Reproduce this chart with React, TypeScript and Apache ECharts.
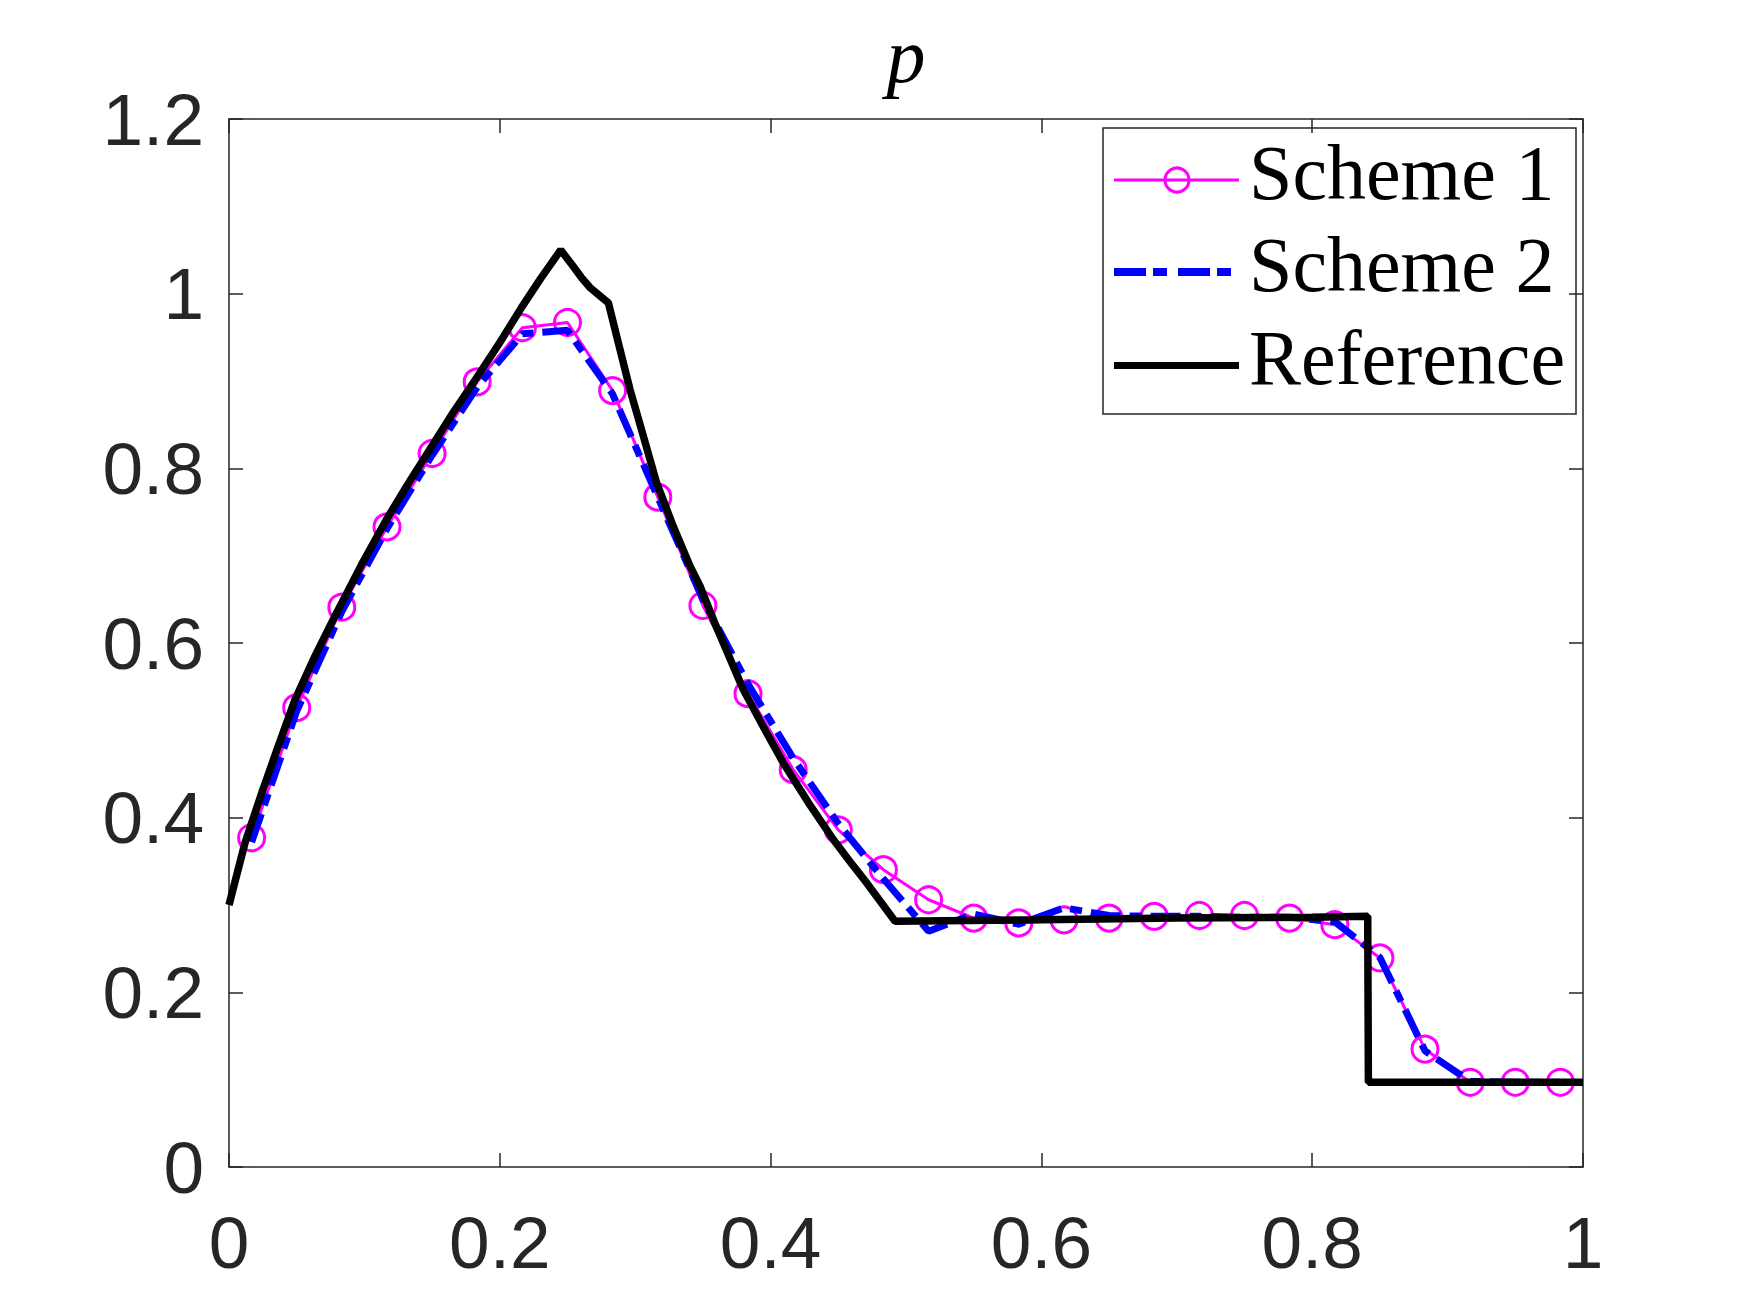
import React, { useEffect, useRef } from "react";
import * as echarts from "echarts";

// Cell centres of the numerical schemes
const cellX = [
  0.0167, 0.05, 0.0833, 0.1167, 0.15, 0.1833, 0.2167, 0.25, 0.2833, 0.3167,
  0.35, 0.3833, 0.4167, 0.45, 0.4833, 0.5167, 0.55, 0.5833, 0.6167, 0.65,
  0.6833, 0.7167, 0.75, 0.7833, 0.8167, 0.85, 0.8833, 0.9167, 0.95, 0.9833,
];

const scheme1 = [
  0.377, 0.526, 0.641, 0.733, 0.817, 0.899, 0.961, 0.967, 0.889, 0.767,
  0.643, 0.542, 0.455, 0.386, 0.3405, 0.306, 0.285, 0.2795, 0.283, 0.285,
  0.287, 0.288, 0.288, 0.285, 0.2775, 0.2394, 0.135, 0.097, 0.097, 0.097,
];

const scheme2 = [
  0.372, 0.522, 0.636, 0.731, 0.815, 0.893, 0.954, 0.958, 0.885, 0.767,
  0.65, 0.553, 0.468, 0.393, 0.33, 0.27, 0.2895, 0.278, 0.2967, 0.288,
  0.287, 0.287, 0.286, 0.286, 0.281, 0.24, 0.133, 0.098, 0.097, 0.097,
];

// Reference (exact) solution
const refX = [
  0, 0.0118, 0.0241, 0.0364, 0.0487, 0.0635, 0.0783, 0.098, 0.1165, 0.133,
  0.1497, 0.166, 0.183, 0.2, 0.216, 0.23, 0.245, 0.2543, 0.26, 0.2666, 0.2802,
  0.2888, 0.2962, 0.306, 0.3159, 0.328, 0.3405, 0.3479, 0.359, 0.3798, 0.395,
  0.4094, 0.428, 0.4463, 0.459, 0.471, 0.4919, 0.6, 0.7, 0.8, 0.841, 0.8415,
  0.9, 1,
];
const refY = [
  0.3, 0.371, 0.428, 0.482, 0.535, 0.585, 0.631, 0.69, 0.742, 0.784,
  0.825, 0.865, 0.904, 0.944, 0.984, 1.017, 1.05, 1.031, 1.019, 1.007, 0.9894,
  0.936, 0.89, 0.837, 0.783, 0.734, 0.688, 0.665, 0.622, 0.5467, 0.503,
  0.4627, 0.417, 0.375, 0.349, 0.3253, 0.2814, 0.283, 0.285, 0.286, 0.287, 0.097,
  0.097, 0.097,
];

const seriesNames = ["Scheme 1", "Scheme 2", "Reference"];
const titleText = "p";

const AXIS_COLOR = "#262626";
const MAGENTA = "#ff00ff";
const BLUE = "#0000ff";
const BLACK = "#000000";

export default function App() {
  const ref = useRef<HTMLDivElement>(null);

  useEffect(() => {
    if (!ref.current) return;
    const chart = echarts.init(ref.current, undefined, { renderer: "svg" });

    const pairs = (xs: number[], ys: number[]) => xs.map((x, i) => [x, ys[i]]);

    const axisCommon = {
      min: 0,
      axisLine: { show: true, onZero: false, lineStyle: { color: AXIS_COLOR, width: 1.5 } },
      axisTick: { show: true, inside: true, length: 14, lineStyle: { color: AXIS_COLOR, width: 1.5 } },
      splitLine: { show: false },
    };

    const labelStyle = {
      color: AXIS_COLOR,
      fontFamily: "Liberation Sans",
      fontSize: 73,
    };

    const fmt = (v: number) => String(Math.round(v * 10) / 10);

    // legend drawn as graphic elements (Matlab style box)
    const legendFont = {
      fontFamily: "Liberation Serif",
      fontSize: 78,
      fill: BLACK,
      align: "left",
      verticalAlign: "middle",
    };
    const legendGraphic = {
      type: "group",
      z: 100,
      children: [
        {
          type: "rect",
          shape: { x: 1103, y: 128, width: 473, height: 286 },
          style: { fill: "#ffffff", stroke: AXIS_COLOR, lineWidth: 1.5 },
        },
        {
          type: "line",
          shape: { x1: 1114, y1: 180, x2: 1239, y2: 180 },
          style: { stroke: MAGENTA, lineWidth: 3 },
        },
        {
          type: "circle",
          shape: { cx: 1177, cy: 180, r: 12 },
          style: { fill: "none", stroke: MAGENTA, lineWidth: 3 },
        },
        {
          type: "line",
          shape: { x1: 1114, y1: 272, x2: 1234, y2: 272 },
          style: { stroke: BLUE, lineWidth: 8, lineDash: [32, 7, 14, 11] },
        },
        {
          type: "line",
          shape: { x1: 1114, y1: 365.5, x2: 1239, y2: 365.5 },
          style: { stroke: BLACK, lineWidth: 7 },
        },
        { type: "text", x: 1249, y: 172, style: { ...legendFont, text: seriesNames[0] } },
        { type: "text", x: 1249, y: 264.5, style: { ...legendFont, text: seriesNames[1] } },
        { type: "text", x: 1249, y: 357, style: { ...legendFont, text: seriesNames[2] } },
      ],
    };

    chart.setOption({
      animation: false,
      backgroundColor: "#ffffff",
      grid: { left: 229, right: 167, top: 119, bottom: 146, containLabel: false },
      graphic: [
        {
          type: "text",
          x: 906,
          y: 55,
          z: 100,
          style: {
            text: titleText,
            fontFamily: "Liberation Serif",
            fontStyle: "italic",
            fontSize: 78,
            fill: BLACK,
            align: "center",
            verticalAlign: "middle",
          },
        },
        legendGraphic,
      ],
      xAxis: [
        {
          ...axisCommon,
          type: "value",
          position: "bottom",
          max: 1,
          interval: 0.2,
          axisLabel: { ...labelStyle, margin: 39, formatter: fmt },
        },
        {
          ...axisCommon,
          type: "value",
          position: "top",
          max: 1,
          interval: 0.2,
          axisLabel: { show: false },
        },
      ],
      yAxis: [
        {
          ...axisCommon,
          type: "value",
          position: "left",
          max: 1.2,
          interval: 0.2,
          axisLabel: { ...labelStyle, margin: 25, padding: [16, 0, 0, 0], formatter: fmt },
        },
        {
          ...axisCommon,
          type: "value",
          position: "right",
          max: 1.2,
          interval: 0.2,
          axisLabel: { show: false },
        },
      ],
      series: [
        {
          name: seriesNames[0],
          type: "line",
          data: pairs(cellX, scheme1),
          symbol: "circle",
          symbolSize: 26,
          showSymbol: true,
          lineStyle: { color: MAGENTA, width: 3 },
          itemStyle: { color: "rgba(0,0,0,0)", borderColor: MAGENTA, borderWidth: 3 },
          z: 2,
        },
        {
          name: seriesNames[1],
          type: "line",
          data: pairs(cellX, scheme2),
          symbol: "none",
          lineStyle: { color: BLUE, width: 7, type: [30, 9, 12, 9] },
          itemStyle: { color: BLUE },
          z: 3,
        },
        {
          name: seriesNames[2],
          type: "line",
          data: pairs(refX, refY),
          symbol: "none",
          lineStyle: { color: BLACK, width: 7.5 },
          itemStyle: { color: BLACK },
          z: 4,
        },
      ],
    });

    return () => chart.dispose();
  }, []);

  return (
    <div
      ref={ref}
      style={{ position: "fixed", left: 0, top: 0, width: 1750, height: 1313, background: "#fff" }}
    />
  );
}
